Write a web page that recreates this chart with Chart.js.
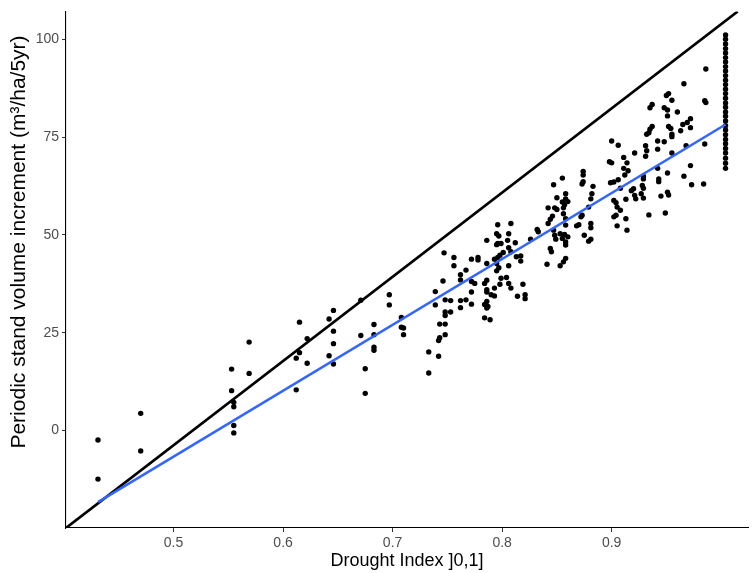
<!DOCTYPE html>
<html>
<head>
<meta charset="utf-8">
<script src="https://cdn.jsdelivr.net/npm/chart.js@4"></script>
<style>
  html, body { margin: 0; padding: 0; background: #fff; }
  canvas { display: block; background: #fff; }
</style>
</head>
<body>
<canvas id="chart" width="752" height="573"></canvas>
<script>
// observed stands: drought index vs periodic volume increment
const droughtIndex = [
  0.431, 0.431, 0.470, 0.470, 0.553, 0.553, 0.555, 0.555, 0.555, 0.555, 0.569, 0.569,
  0.612, 0.612, 0.615, 0.615, 0.622, 0.622, 0.642, 0.642, 0.646, 0.646, 0.646, 0.646,
  0.671, 0.671, 0.675, 0.675, 0.683, 0.683, 0.683, 0.683, 0.697, 0.697,
  0.708, 0.708, 0.710, 0.710, 0.733, 0.733, 0.739, 0.739, 0.742, 0.742, 0.743, 0.743,
  0.748, 0.748, 0.748, 0.748, 0.753, 0.748, 0.753, 0.746, 0.747, 0.756, 0.756, 0.762,
  0.762, 0.762, 0.762, 0.767, 0.767, 0.772, 0.778, 0.778, 0.772, 0.775, 0.772, 0.772,
  0.786, 0.784, 0.786, 0.786, 0.786, 0.784, 0.784, 0.789, 0.787, 0.786, 0.786, 0.786,
  0.790, 0.793,
  0.796, 0.808, 0.795, 0.797, 0.806, 0.796, 0.799, 0.795, 0.805, 0.812, 0.798, 0.796,
  0.793, 0.806, 0.808, 0.801, 0.795, 0.795, 0.799, 0.798, 0.804, 0.806, 0.808, 0.793,
  0.797, 0.806, 0.813, 0.817, 0.817, 0.819, 0.814, 0.821, 0.821, 0.826, 0.832, 0.833,
  0.842, 0.848, 0.850, 0.847, 0.850, 0.846, 0.844, 0.842, 0.847, 0.848, 0.849, 0.853,
  0.857, 0.844, 0.845, 0.841, 0.853, 0.858, 0.856, 0.858, 0.858, 0.855, 0.857, 0.858,
  0.856, 0.858, 0.858,
  0.855, 0.855, 0.860, 0.856, 0.858, 0.860, 0.868, 0.870, 0.873, 0.872, 0.874, 0.874,
  0.874, 0.873, 0.875, 0.879, 0.879, 0.881, 0.881, 0.881, 0.882, 0.881, 0.883, 0.898,
  0.900, 0.900, 0.906, 0.899, 0.902, 0.906, 0.902, 0.904, 0.905, 0.908, 0.904, 0.902,
  0.905, 0.911, 0.912, 0.913, 0.913, 0.914, 0.914,
  0.911, 0.915, 0.908, 0.918, 0.920, 0.921, 0.921, 0.922, 0.927, 0.929, 0.928, 0.929,
  0.929, 0.929, 0.931, 0.932, 0.931, 0.932, 0.934, 0.935, 0.937, 0.937, 0.935, 0.942,
  0.948, 0.942, 0.942, 0.943, 0.943, 0.945, 0.948, 0.951, 0.952, 0.950, 0.955, 0.951,
  0.952, 0.954, 0.955, 0.955, 0.955, 0.951, 0.951, 0.952, 0.960, 0.963, 0.965, 0.966,
  0.966, 0.968, 0.969, 0.972, 0.972, 0.972, 0.973, 0.984, 0.985, 0.986, 0.986, 0.985,
  0.934, 0.949,
  1.004, 1.004, 1.004, 1.004, 1.004, 1.004, 1.004, 1.004, 1.004, 1.004,
  1.004, 1.004, 1.004, 1.004, 1.004, 1.004, 1.004, 1.004, 1.004, 1.004,
  1.004, 1.004, 1.004, 1.004, 1.004, 1.004, 1.004, 1.004, 1.004, 1.004
];
const volumeIncrement = [
  -2.4, -12.4, 4.4, -5.2, 15.7, 10.2, 7.2, 6.1, 1.3, -0.6, 22.6, 14.6,
  18.5, 10.4, 27.7, 19.9, 23.5, 17.2, 28.5, 19.1, 30.7, 25.4, 22.2, 17.0,
  33.3, 24.3, 15.8, 9.5, 27.1, 24.5, 21.3, 20.5, 34.7, 32.1,
  28.9, 26.4, 26.2, 24.5, 20.1, 14.7, 35.5, 32.1, 19.0, 23.0, 23.7, 27.2,
  27.2, 24.5, 30.3, 29.4, 30.3, 33.4, 33.2, 38.2, 45.4, 44.2, 42.1, 39.8,
  38.5, 33.2, 31.4, 33.4, 41.0, 43.8, 44.2, 43.6, 38.1, 37.6, 35.4, 32.3,
  38.4, 37.6, 36.0, 35.4, 31.3, 32.2, 28.8, 28.3, 31.7, 33.0, 48.6, 42.7,
  34.7, 34.4,
  52.6, 52.9, 50.3, 49.7, 50.3, 47.8, 47.8, 47.5, 48.6, 48.0, 44.8, 44.2,
  43.8, 46.7, 45.7, 45.5, 42.7, 40.8, 38.9, 37.4, 39.1, 37.6, 36.4, 36.4,
  41.6, 42.1, 44.4, 44.6, 43.3, 37.4, 34.3, 34.7, 33.7, 48.9, 51.4, 50.8,
  56.9, 56.9, 56.5, 62.8, 59.5, 54.8, 54.0, 52.9, 51.2, 49.9, 48.9, 50.3,
  50.1, 46.5, 45.7, 42.5, 42.1, 44.0, 43.1, 48.2, 47.4, 58.4, 57.7, 60.5,
  55.4, 54.1, 52.5,
  64.5, 49.1, 49.5, 56.9, 59.2, 58.5, 52.3, 52.6, 55.0, 54.6, 66.2, 65.3,
  63.6, 63.0, 49.9, 57.1, 48.4, 48.9, 52.9, 51.8, 60.5, 59.2, 62.4, 68.7,
  68.4, 74.0, 72.9, 63.3, 63.5, 64.1, 58.8, 58.2, 57.1, 56.3, 55.0, 54.6,
  52.3, 67.0, 65.3, 59.1, 54.1, 51.2, 68.4,
  69.8, 66.4, 61.9, 61.3, 61.8, 70.9, 60.1, 59.2, 60.5, 59.4, 62.6, 61.9,
  65.0, 64.3, 72.8, 71.5, 70.1, 75.7, 76.1, 77.0, 77.7, 83.3, 82.5, 74.0,
  73.8, 71.9, 67.0, 64.3, 63.6, 59.9, 82.5, 81.9, 86.1, 85.6, 84.4, 80.4,
  77.7, 77.2, 75.7, 75.1, 70.9, 65.8, 60.9, 60.2, 81.4, 76.6, 78.2, 88.6,
  65.0, 72.8, 78.7, 79.7, 77.4, 67.7, 62.8, 63.0, 84.3, 83.8, 92.4, 73.2,
  55.1, 55.6,
  101.1, 100.0, 98.8, 97.6, 96.5, 95.3, 94.2, 93.0, 91.9, 90.7,
  89.5, 88.4, 87.2, 86.1, 84.9, 83.7, 82.6, 81.4, 80.3, 79.1,
  77.9, 76.8, 75.6, 74.4, 73.3, 72.1, 70.9, 69.6, 68.3, 67.0
];

// fitted line (blue) and reference line (black), end points
const fitX = [0.431, 1.004];
const fitY = [-18.3, 78.2];
const refX = [0.4018, 1.0151];
const refY = [-24.9, 107.1];

const xTicks = [0.5, 0.6, 0.7, 0.8, 0.9];
const yTicks = [0, 25, 50, 75, 100];
const xLimits = [0.4018, 1.0245];
const yLimits = [-24.9, 107.1];

const yTitle = 'Periodic stand volume increment (m³/ha/5yr)';
const xTitle = 'Drought Index ]0,1]';

const pts = droughtIndex.map((x, i) => ({ x: x, y: volumeIncrement[i] }));
const fit = fitX.map((x, i) => ({ x: x, y: fitY[i] }));
const ref = refX.map((x, i) => ({ x: x, y: refY[i] }));

const fontFamily = "'Liberation Sans', Arial, sans-serif";
const tickFont = { family: fontFamily, size: 14 };
const titleFont = { family: fontFamily, size: 18 };

// y title sits a bit above the panel centre in the original, so draw it by hand
const yTitlePlugin = {
  id: 'yTitle',
  afterDraw(chart) {
    const c = chart.ctx;
    c.save();
    c.translate(19, 242);
    c.rotate(-Math.PI / 2);
    c.font = '21px ' + fontFamily;
    c.fillStyle = '#000';
    c.textAlign = 'center';
    c.textBaseline = 'middle';
    c.fillText(yTitle, 0, 0);
    c.restore();
  }
};

new Chart(document.getElementById('chart'), {
  type: 'scatter',
  data: {
    datasets: [
      {
        data: pts,
        pointRadius: 2.7,
        pointBackgroundColor: '#000',
        pointBorderWidth: 0,
        order: 2
      },
      {
        type: 'line',
        data: ref,
        borderColor: '#000',
        borderWidth: 2.6,
        pointRadius: 0,
        order: 1
      },
      {
        type: 'line',
        data: fit,
        borderColor: '#3366FF',
        borderWidth: 2.6,
        pointRadius: 0,
        order: 0
      }
    ]
  },
  options: {
    responsive: false,
    animation: false,
    devicePixelRatio: 1,
    layout: { padding: { top: 8, right: 1, left: 0, bottom: 0 } },
    plugins: { legend: { display: false }, tooltip: { enabled: false } },
    scales: {
      x: {
        type: 'linear',
        min: xLimits[0],
        max: xLimits[1],
        afterBuildTicks: s => { s.ticks = xTicks.map(v => ({ value: v })); },
        afterFit: s => { s.height = 45; },
        ticks: { color: '#4d4d4d', font: tickFont, padding: 3, maxRotation: 0,
                 callback: v => v.toFixed(1) },
        grid: { drawOnChartArea: false, tickLength: 4, color: '#333', lineWidth: 1 },
        border: { display: true, color: '#000', width: 1.1 },
        title: { display: true, text: xTitle, color: '#000',
                 font: titleFont, padding: { top: 0, bottom: 1 } }
      },
      y: {
        type: 'linear',
        min: yLimits[0],
        max: yLimits[1],
        afterBuildTicks: s => { s.ticks = yTicks.map(v => ({ value: v })); },
        afterFit: s => { s.width = 66; },
        ticks: { color: '#4d4d4d', font: tickFont, padding: 3,
                 callback: v => String(v) },
        grid: { drawOnChartArea: false, tickLength: 4, color: '#333', lineWidth: 1 },
        border: { display: true, color: '#000', width: 1.1 },
        title: { display: false }
      }
    }
  },
  plugins: [yTitlePlugin]
});
</script>
</body>
</html>
